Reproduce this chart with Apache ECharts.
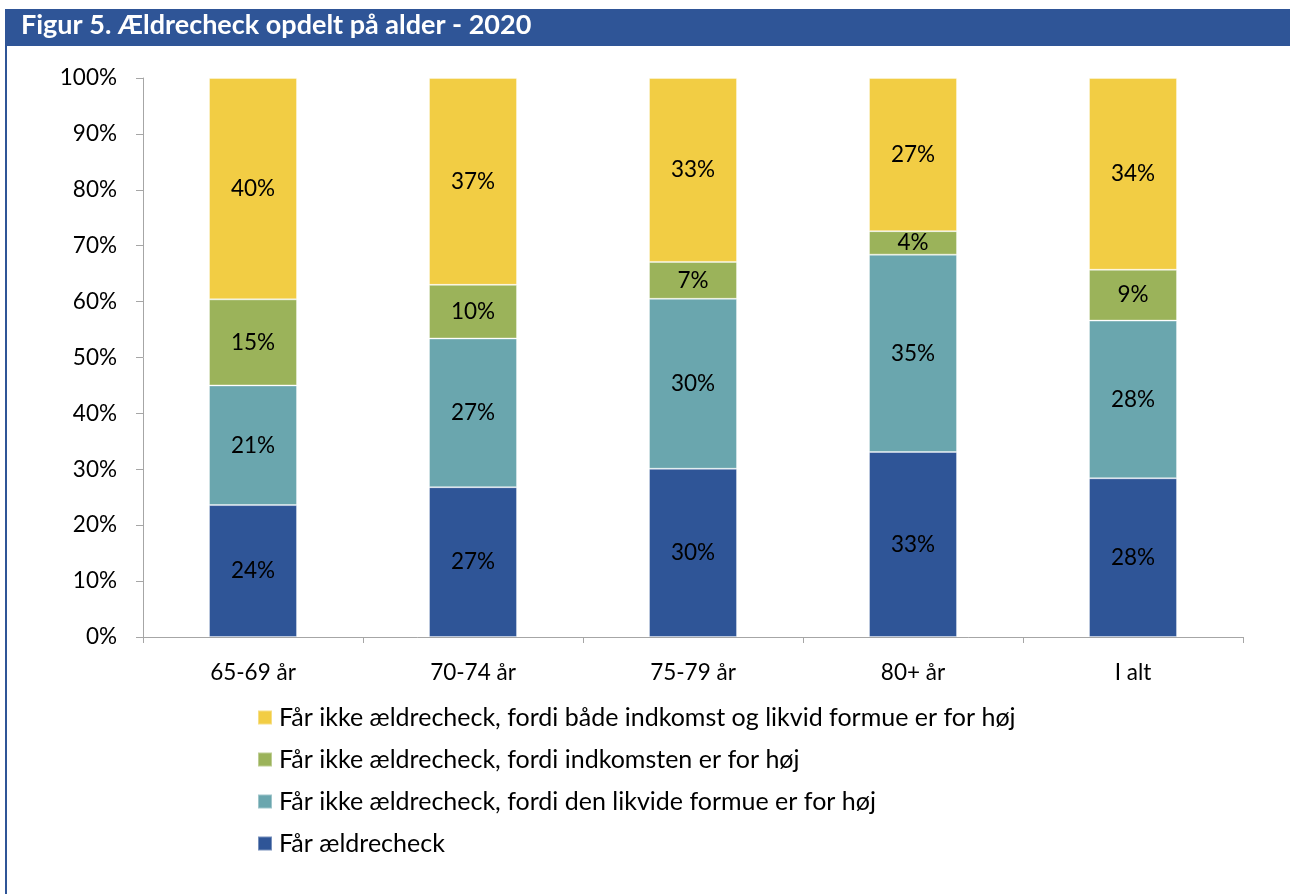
<!DOCTYPE html>
<html>
<head>
<meta charset="utf-8">
<script src="https://cdn.jsdelivr.net/npm/echarts@6/dist/echarts.min.js"></script>
<style>
html,body{margin:0;padding:0;background:#fff;}
#chart{width:1290px;height:894px;}
</style>
</head>
<body>
<div id="chart"></div>
<script>
const titleText = 'Figur 5. Ældrecheck opdelt på alder - 2020';
const categories = ['65-69 år', '70-74 år', '75-79 år', '80+ år', 'I alt'];
const seriesNames = [
  'Får ældrecheck',
  'Får ikke ældrecheck, fordi den likvide formue er for høj',
  'Får ikke ældrecheck, fordi indkomsten er for høj',
  'Får ikke ældrecheck, fordi både indkomst og likvid formue er for høj'
];
const faarCheck   = [23.6, 26.8, 30.1, 33.1, 28.4];
const formueHoej  = [21.4, 26.6, 30.4, 35.3, 28.2];
const indkomstHoej = [15.4, 9.6, 6.6, 4.2, 9.1];
const begge       = [39.6, 37.0, 32.9, 27.4, 34.3];
const yTicks = [0, 10, 20, 30, 40, 50, 60, 70, 80, 90, 100];

const colors = ['#2F5597', '#6AA6AE', '#9BB35A', '#F2CD44'];
const FONT = 'Lato';
const dataSets = [faarCheck, formueHoej, indkomstHoej, begge];

const chart = echarts.init(document.getElementById('chart'), null, {renderer: 'canvas'});
const option = {
  animation: false,
  backgroundColor: '#ffffff',
  textStyle: {fontFamily: FONT},
  graphic: [
    {type: 'rect', left: 5, top: 9, shape: {width: 1285, height: 37}, style: {fill: '#2F5597'}},
    {type: 'rect', left: 5, top: 46, shape: {width: 2, height: 848}, style: {fill: '#2F5597'}},
    {type: 'text', left: 21, top: 12, style: {text: titleText, fill: '#ffffff', font: 'bold 27px ' + FONT}}
  ],
  grid: {left: 143, right: 47, top: 78, bottom: 257, containLabel: false},
  legend: {
    orient: 'vertical',
    left: 252,
    top: 700,
    itemWidth: 14,
    itemHeight: 14,
    itemGap: 17,
    icon: 'rect',
    data: [seriesNames[3], seriesNames[2], seriesNames[1], seriesNames[0]],
    textStyle: {fontFamily: FONT, fontSize: 25, color: '#000', padding: [0, 0, 0, 2]}
  },
  xAxis: {
    type: 'category',
    data: categories,
    axisLine: {lineStyle: {color: '#A6A6A6', width: 1}},
    axisTick: {show: true, alignWithLabel: false, length: 6, lineStyle: {color: '#A6A6A6'}},
    axisLabel: {color: '#000', fontFamily: FONT, fontSize: 22.5, margin: 24}
  },
  yAxis: {
    type: 'value',
    min: yTicks[0],
    max: yTicks[yTicks.length - 1],
    interval: 10,
    axisLine: {show: true, lineStyle: {color: '#A6A6A6', width: 1}},
    axisTick: {show: true, length: 7, lineStyle: {color: '#A6A6A6'}},
    splitLine: {show: false},
    axisLabel: {color: '#000', fontFamily: FONT, fontSize: 22.5, margin: 26, formatter: '{value}%'}
  },
  series: dataSets.map((d, i) => ({
    name: seriesNames[i],
    type: 'bar',
    stack: 'total',
    barWidth: '40%',
    data: d,
    itemStyle: {color: colors[i], borderColor: 'rgba(255,255,255,0.35)', borderWidth: 1},
    label: {
      show: true,
      position: 'inside',
      color: '#000',
      fontFamily: FONT,
      fontSize: 22.5,
      formatter: p => Math.round(p.value) + '%'
    }
  }))
};
chart.setOption(option);
</script>
</body>
</html>
